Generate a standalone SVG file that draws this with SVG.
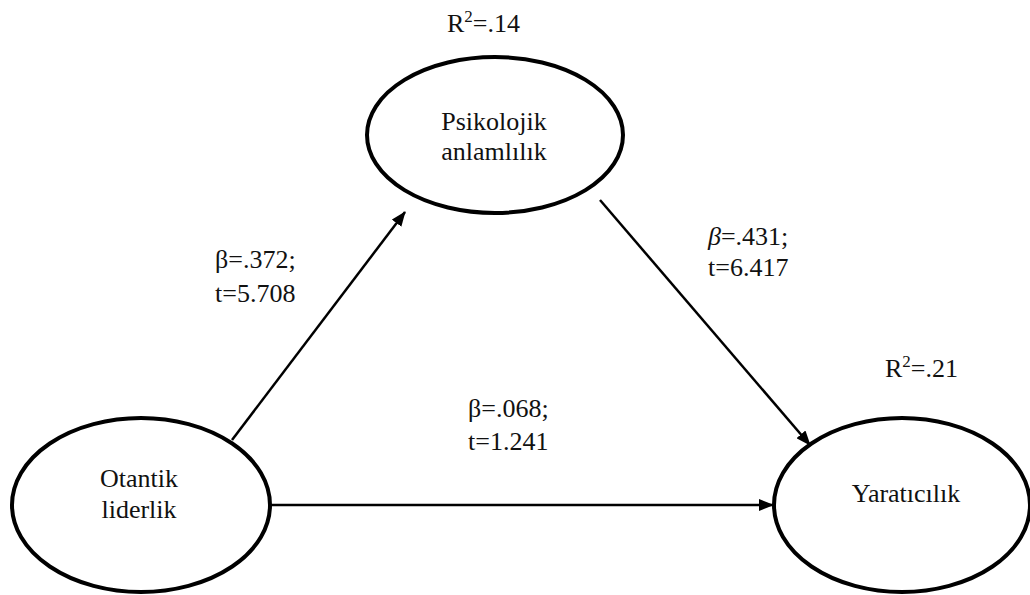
<svg xmlns="http://www.w3.org/2000/svg" width="1030" height="595" viewBox="0 0 1030 595">
<style>
.node{fill:#fff;stroke:#000;stroke-width:4}
.conn{stroke:#000;stroke-width:2.5;fill:none}
.t{font-family:'Liberation Serif','Times New Roman',serif;font-size:26px;fill:#111}
.sup{font-size:17px}
</style>
<defs>
<marker id="ah" markerWidth="15" markerHeight="12" refX="14" refY="6" orient="auto" markerUnits="userSpaceOnUse">
<path d="M0,0 L15,6 L0,12 z" fill="#000"/>
</marker>
</defs>
<rect width="1030" height="595" fill="#fff"/>
<g id="connectors">
<line class="conn" x1="232" y1="440" x2="405" y2="212" marker-end="url(#ah)"/>
<line class="conn" x1="600" y1="200" x2="810" y2="445" marker-end="url(#ah)"/>
<line class="conn" x1="270" y1="505" x2="773" y2="505" marker-end="url(#ah)"/>
</g>
<g id="psikolojik" class="t">
<ellipse class="node" cx="495" cy="135" rx="128" ry="78"/>
<text x="494" y="130" text-anchor="middle">Psikolojik</text>
<text x="494" y="160" text-anchor="middle">anlamlılık</text>
</g>
<g id="otantik" class="t">
<ellipse class="node" cx="141" cy="505" rx="129" ry="87"/>
<text x="139" y="487" text-anchor="middle">Otantik</text>
<text x="139" y="518" text-anchor="middle">liderlik</text>
</g>
<g id="yaraticilik" class="t">
<ellipse class="node" cx="902" cy="505" rx="128" ry="87"/>
<text x="906" y="502" text-anchor="middle">Yaratıcılık</text>
</g>
<g id="labels" class="t">
<text x="447" y="32">R<tspan class="sup" dy="-10">2</tspan><tspan dy="10">=.14</tspan></text>
<text x="885" y="377">R<tspan class="sup" dy="-10">2</tspan><tspan dy="10">=.21</tspan></text>
<text x="215" y="268">β=.372;</text>
<text x="215" y="302">t=5.708</text>
<text x="708" y="245"><tspan font-style="italic">β</tspan>=.431;</text>
<text x="708" y="276">t=6.417</text>
<text x="468" y="417">β=.068;</text>
<text x="468" y="450">t=1.241</text>
</g>
</svg>
